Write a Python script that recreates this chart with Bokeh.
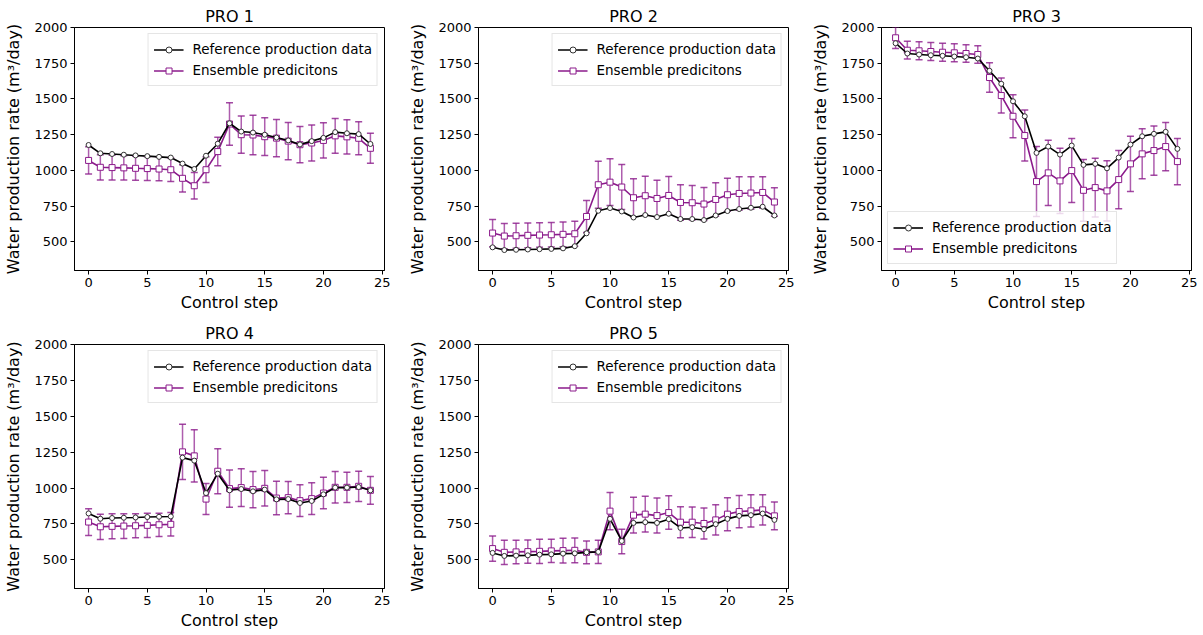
import math
from bokeh.plotting import figure
from bokeh.layouts import column, row
from bokeh.models import FixedTicker, Legend, LegendItem, ColumnDataSource, Range1d
from bokeh.embed import file_html
from bokeh.resources import INLINE

# ---------------- data ----------------
steps = list(range(25))
titles = ["PRO 1", "PRO 2", "PRO 3", "PRO 4", "PRO 5"]
x_ticks = [0, 5, 10, 15, 20, 25]
y_ticks = [500, 750, 1000, 1250, 1500, 1750, 2000]

pro1_ref = [1178, 1120, 1115, 1110, 1105, 1100, 1095, 1090, 1048, 1010, 1103, 1187, 1330,
            1272, 1265, 1250, 1230, 1210, 1182, 1205, 1228, 1268, 1260, 1254, 1185]
pro1_ens = [1070, 1022, 1020, 1018, 1015, 1013, 1010, 1005, 945, 893, 1005, 1132, 1325,
            1250, 1248, 1236, 1226, 1205, 1180, 1192, 1210, 1242, 1235, 1225, 1155]
pro1_err = [95, 88, 86, 85, 84, 83, 82, 82, 95, 92, 90, 100, 148,
            130, 138, 132, 130, 130, 127, 126, 123, 122, 120, 115, 105]

pro2_ref = [462, 443, 445, 447, 449, 451, 455, 470, 560, 718, 737, 713, 671,
            688, 674, 697, 660, 660, 653, 685, 716, 730, 739, 746, 685]
pro2_ens = [562, 541, 543, 546, 548, 550, 553, 557, 678, 900, 918, 884, 809,
            823, 804, 825, 776, 774, 765, 797, 830, 839, 842, 846, 779]
pro2_err = [95, 88, 87, 86, 86, 85, 86, 87, 112, 165, 164, 158, 133,
            137, 128, 133, 124, 121, 116, 117, 116, 117, 114, 110, 100]

pro3_ref = [1890, 1818, 1811, 1806, 1802, 1797, 1792, 1783, 1697, 1606, 1484, 1379, 1123,
            1167, 1111, 1174, 1039, 1046, 1015, 1090, 1181, 1239, 1256, 1270, 1151]
pro3_ens = [1928, 1841, 1837, 1832, 1827, 1823, 1818, 1811, 1650, 1524, 1379, 1244, 922,
            983, 927, 999, 861, 880, 857, 936, 1046, 1116, 1139, 1167, 1062]
pro3_err = [75, 62, 63, 63, 63, 63, 61, 61, 103, 122, 150, 178, 245,
            229, 228, 224, 216, 205, 210, 204, 193, 175, 172, 169, 162]

pro4_ref = [823, 786, 791, 793, 795, 798, 800, 802, 1212, 1191, 965, 1100, 984,
            993, 977, 989, 921, 923, 896, 910, 956, 1003, 1003, 1007, 984]
pro4_ens = [763, 730, 733, 735, 737, 740, 744, 747, 1252, 1224, 923, 1117, 996,
            1003, 989, 998, 930, 933, 912, 926, 965, 1005, 1005, 1012, 984]
pro4_err = [93, 88, 87, 86, 84, 84, 81, 82, 193, 182, 108, 156, 130,
            131, 127, 124, 117, 112, 110, 110, 110, 110, 105, 105, 97]

pro5_ref = [548, 527, 529, 531, 536, 538, 543, 545, 552, 555, 785, 631, 757,
            762, 757, 783, 722, 727, 713, 748, 785, 806, 811, 822, 778]
pro5_ens = [578, 552, 555, 557, 559, 562, 564, 566, 552, 555, 839, 627, 811,
            818, 808, 829, 762, 762, 753, 778, 818, 836, 841, 848, 806]
pro5_err = [88, 84, 82, 81, 84, 81, 86, 86, 79, 81, 130, 85, 125,
            125, 122, 117, 108, 106, 108, 106, 115, 112, 112, 105, 97]

# ---------------- style ----------------
FONT = "DejaVu Sans"
PURPLE = "#8B1A8B"


def make_panel(title, ref, ens, err, left, right, fh, legend_loc):
    p = figure(frame_width=310, frame_height=fh,
               x_range=Range1d(-1.2, 25.2), y_range=Range1d(300, 2000),
               output_backend="svg", toolbar_location=None,
               min_border_left=left, min_border_right=right,
               min_border_top=27, min_border_bottom=47,
               background_fill_color="white", border_fill_color="white")
    p.grid.visible = False
    p.outline_line_color = "black"
    p.outline_line_width = 1

    p.title.text = title
    p.title.align = "center"
    p.title.text_font = FONT
    p.title.text_font_size = "16px"
    p.title.text_font_style = "normal"
    p.title.text_color = "black"
    p.title.standoff = 4

    for ax in (p.xaxis[0], p.yaxis[0]):
        ax.major_label_text_font = FONT
        ax.major_label_text_font_size = "13px"
        ax.major_label_text_color = "black"
        ax.axis_label_text_font = FONT
        ax.axis_label_text_font_size = "16px"
        ax.axis_label_text_font_style = "normal"
        ax.axis_label_text_color = "black"
        ax.minor_tick_line_color = None
        ax.major_tick_in = 0
        ax.major_tick_out = 4
        ax.major_tick_line_color = "black"
        ax.axis_line_color = "black"
        ax.major_label_standoff = 3
    p.xaxis[0].ticker = FixedTicker(ticks=x_ticks)
    p.yaxis[0].ticker = FixedTicker(ticks=y_ticks)
    p.xaxis[0].axis_label = "Control step"
    p.xaxis[0].axis_label_standoff = 3
    p.yaxis[0].axis_label = "Water production rate (m\u00b3/day)"
    p.yaxis[0].axis_label_standoff = 8

    lo = [e - d for e, d in zip(ens, err)]
    hi = [e + d for e, d in zip(ens, err)]
    src = ColumnDataSource(dict(x=steps, ens=ens, ref=ref, lo=lo, hi=hi))

    # error bars
    p.segment(x0="x", y0="lo", x1="x", y1="hi", source=src,
              line_color=PURPLE, line_alpha=0.7, line_width=1.5)
    p.scatter(x="x", y="lo", source=src, marker="dash", size=7,
              line_color=PURPLE, line_alpha=0.8, line_width=1.5)
    p.scatter(x="x", y="hi", source=src, marker="dash", size=7,
              line_color=PURPLE, line_alpha=0.8, line_width=1.5)

    ens_line = p.line(x="x", y="ens", source=src, line_color=PURPLE, line_width=1.6)
    ens_pts = p.scatter(x="x", y="ens", source=src, marker="square", size=6,
                        fill_color="white", line_color=PURPLE, line_width=1)

    ref_line = p.line(x="x", y="ref", source=src, line_color="black", line_width=1.6)
    ref_pts = p.scatter(x="x", y="ref", source=src, marker="circle", size=5,
                        fill_color="white", line_color="#333333", line_width=1)

    leg_bar = p.scatter(x=[], y=[], marker="dash", angle=math.pi / 2, size=14,
                        line_color=PURPLE, line_alpha=0.7, line_width=1.5)

    legend = Legend(items=[
        LegendItem(label="Reference production data", renderers=[ref_line, ref_pts]),
        LegendItem(label="Ensemble predicitons", renderers=[ens_line, leg_bar, ens_pts]),
    ], location=legend_loc)
    legend.label_text_font = FONT
    legend.label_text_font_size = "13.5px"
    legend.label_text_color = "black"
    legend.glyph_width = 30
    legend.glyph_height = 15
    legend.label_height = 20
    legend.label_standoff = 9
    legend.spacing = 1
    legend.padding = 5
    legend.margin = 6
    legend.border_line_color = "#cccccc"
    legend.border_line_width = 1
    legend.background_fill_alpha = 0.8
    p.add_layout(legend, "center")
    return p


p1 = make_panel(titles[0], pro1_ref, pro1_ens, pro1_err, 74, 16, 243, "top_right")
p2 = make_panel(titles[1], pro2_ref, pro2_ens, pro2_err, 78, 12, 243, "top_right")
p3 = make_panel(titles[2], pro3_ref, pro3_ens, pro3_err, 81, 12, 243, "bottom_left")
p4 = make_panel(titles[3], pro4_ref, pro4_ens, pro4_err, 74, 16, 244, "top_right")
p5 = make_panel(titles[4], pro5_ref, pro5_ens, pro5_err, 78, 12, 244, "top_right")

layout = column(row(p1, p2, p3), row(p4, p5))

open("out.html", "w").write(file_html(layout, INLINE))
